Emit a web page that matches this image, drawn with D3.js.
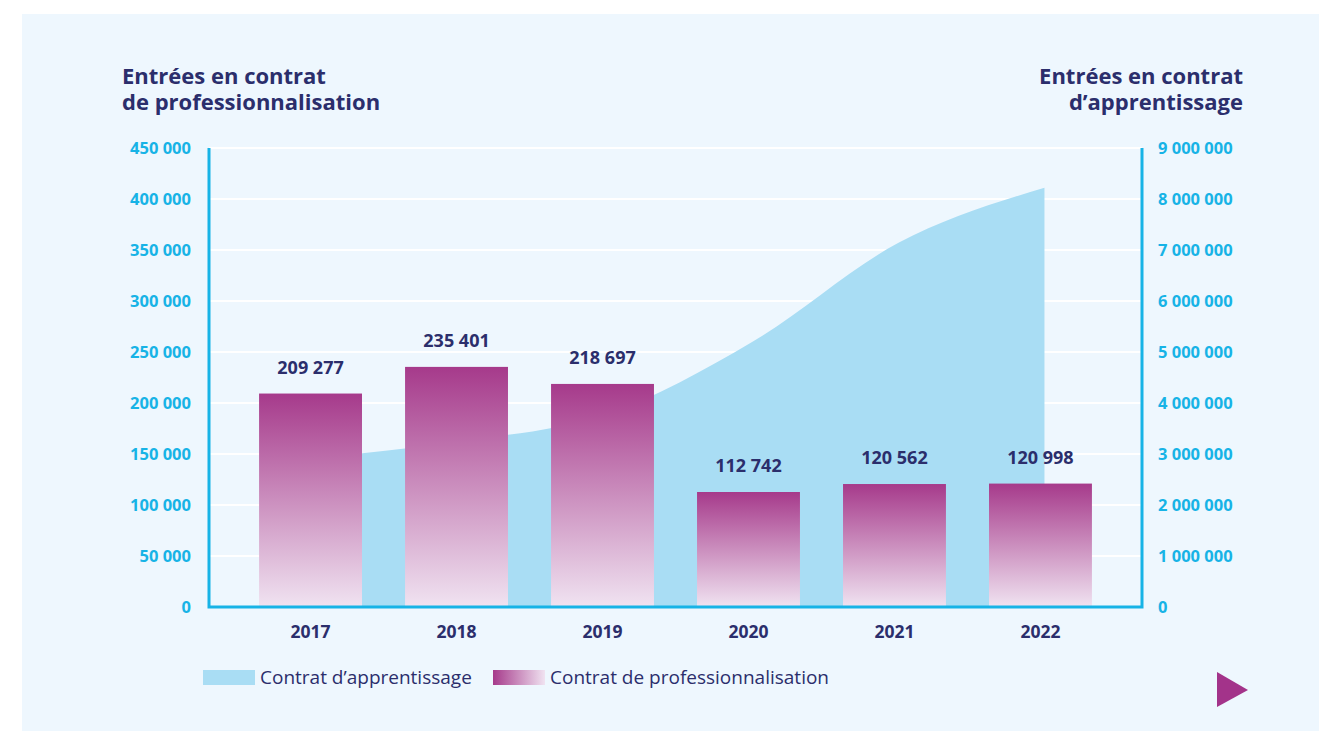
<!DOCTYPE html>
<meta charset="utf-8">
<script src="https://d3js.org/d3.v7.min.js"></script>
<style>
  body { margin: 0; background: #ffffff; }
  text { font-family: "Open Sans", sans-serif; }
</style>
<div id="chart"></div>
<script>
// data
var years = ["2017", "2018", "2019", "2020", "2021", "2022"];
var profValues = [209277, 235401, 218697, 112742, 120562, 120998];
var apprValues = [2920000, 3250000, 3780000, 5200000, 7140000, 8220000];
var leftTicks = [0, 50000, 100000, 150000, 200000, 250000, 300000, 350000, 400000, 450000];
var rightTicks = [0, 1000000, 2000000, 3000000, 4000000, 5000000, 6000000, 7000000, 8000000, 9000000];

var W = 1319, H = 731;
var navy = "#2b2e6c", cyan = "#17b3e6";

var svg = d3.select("#chart").append("svg")
    .attr("width", W).attr("height", H);

// light card background
svg.append("rect")
    .attr("x", 22).attr("y", 14)
    .attr("width", W - 22).attr("height", H - 14)
    .attr("fill", "#eef7fe");

var defs = svg.append("defs");
var gBar = defs.append("linearGradient").attr("id", "gBar")
    .attr("x1", 0).attr("y1", 0).attr("x2", 0).attr("y2", 1);
gBar.append("stop").attr("offset", "0%").attr("stop-color", "#a63a8b");
gBar.append("stop").attr("offset", "100%").attr("stop-color", "#f0e3f1");
var gLeg = defs.append("linearGradient").attr("id", "gLeg")
    .attr("x1", 0).attr("y1", 0).attr("x2", 1).attr("y2", 0);
gLeg.append("stop").attr("offset", "0%").attr("stop-color", "#a63a8b");
gLeg.append("stop").attr("offset", "100%").attr("stop-color", "#f0e3f1");

var pLeft = 209, pRight = 1142, pTop = 148, pBottom = 607;

var x = d3.scaleBand().domain(years).range([pLeft, pRight])
    .paddingInner(0.295).paddingOuter(0.343);
var yL = d3.scaleLinear().domain([0, 450000]).range([pBottom, pTop]);
var yR = d3.scaleLinear().domain([0, 9000000]).range([pBottom, pTop]);

var fmt = function (v) { return d3.format(",")(v).replace(/,/g, " "); };

// grid lines
svg.append("g").selectAll("line").data(leftTicks.slice(1)).enter().append("line")
    .attr("x1", pLeft).attr("x2", pRight)
    .attr("y1", function (d) { return yL(d); }).attr("y2", function (d) { return yL(d); })
    .attr("stroke", "#ffffff").attr("stroke-width", 2);

// area (apprentissage)
var area = d3.area()
    .x(function (d, i) { return x(years[i]) + x.bandwidth() / 2 + 4; })
    .y0(yR(0))
    .y1(function (d) { return yR(d); })
    .curve(d3.curveMonotoneX);
svg.append("path").datum(apprValues)
    .attr("d", area)
    .attr("fill", "#a9ddf4");

// bars (professionnalisation)
svg.append("g").selectAll("rect").data(profValues).enter().append("rect")
    .attr("x", function (d, i) { return x(years[i]); })
    .attr("y", function (d) { return yL(d); })
    .attr("width", x.bandwidth())
    .attr("height", function (d) { return yL(0) - yL(d); })
    .attr("fill", "url(#gBar)");

// bar labels
svg.append("g").selectAll("text").data(profValues).enter().append("text")
    .attr("x", function (d, i) { return x(years[i]) + x.bandwidth() / 2; })
    .attr("y", function (d) { return yL(d) - 20; })
    .attr("text-anchor", "middle")
    .attr("font-size", 18).attr("font-weight", 700).attr("fill", navy)
    .text(function (d) { return fmt(d); });

// axes
var yAxisL = svg.append("g").attr("transform", "translate(" + pLeft + ",0)")
    .call(d3.axisLeft(yL).tickValues(leftTicks).tickSize(0).tickPadding(18).tickFormat(fmt));
var yAxisR = svg.append("g").attr("transform", "translate(" + pRight + ",0)")
    .call(d3.axisRight(yR).tickValues(rightTicks).tickSize(0).tickPadding(16).tickFormat(fmt));
[yAxisL, yAxisR].forEach(function (a) {
    a.select(".domain").remove();
    a.selectAll("text")
        .attr("font-family", "'Open Sans', sans-serif")
        .attr("font-size", 16.5).attr("font-weight", 700).attr("fill", cyan);
});

svg.append("path")
    .attr("d", "M" + pLeft + "," + pTop + "V" + pBottom + "H" + pRight + "V" + pTop)
    .attr("fill", "none").attr("stroke", cyan).attr("stroke-width", 3);

var xAxis = svg.append("g").attr("transform", "translate(0," + pBottom + ")")
    .call(d3.axisBottom(x).tickSize(0).tickPadding(19));
xAxis.select(".domain").remove();
xAxis.selectAll("text")
    .attr("font-family", "'Open Sans', sans-serif")
    .attr("font-size", 17.5).attr("font-weight", 700).attr("fill", navy);

// titles
var tL = svg.append("text").attr("x", 122).attr("y", 84)
    .attr("font-size", 22).attr("font-weight", 700).attr("fill", navy);
tL.append("tspan").attr("x", 122).text("Entrées en contrat");
tL.append("tspan").attr("x", 122).attr("dy", 26).text("de professionnalisation");

var tR = svg.append("text").attr("x", 1243).attr("y", 84).attr("text-anchor", "end")
    .attr("font-size", 22).attr("font-weight", 700).attr("fill", navy);
tR.append("tspan").attr("x", 1243).text("Entrées en contrat");
tR.append("tspan").attr("x", 1243).attr("dy", 26).text("d\u2019apprentissage");

// legend
var leg = svg.append("g");
leg.append("rect").attr("x", 203).attr("y", 670).attr("width", 52).attr("height", 15).attr("fill", "#a9ddf4");
leg.append("text").attr("x", 260).attr("y", 684).attr("font-size", 19).attr("fill", navy)
    .text("Contrat d\u2019apprentissage");
leg.append("rect").attr("x", 493).attr("y", 670).attr("width", 52).attr("height", 15).attr("fill", "url(#gLeg)");
leg.append("text").attr("x", 550).attr("y", 684).attr("font-size", 19).attr("fill", navy)
    .text("Contrat de professionnalisation");

// next arrow
svg.append("path").attr("d", "M1217,672L1248,690L1217,707Z").attr("fill", "#a3338a");
</script>
